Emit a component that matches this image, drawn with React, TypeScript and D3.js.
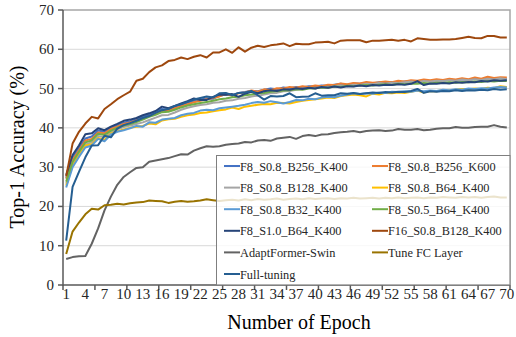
import * as d3 from "d3";
import React, { useEffect, useRef } from "react";

const EPOCHS = d3.range(1, 71);
const X_LABELS = [1, 4, 7, 10, 13, 16, 19, 22, 25, 28, 31, 34, 37, 40, 43, 46, 49, 52, 55, 58, 61, 64, 67, 70];
const Y_TICKS = [0, 10, 20, 30, 40, 50, 60, 70];

const B256_K400 = [
  27.3, 32.5, 34.8, 37.3, 37.8, 39.3, 39.0, 40.0, 40.6, 41.3,
  41.7, 42.2, 42.8, 43.4, 44.0, 44.8, 44.6, 45.3, 45.8, 46.4,
  46.9, 47.2, 47.5, 47.4, 48.2, 48.5, 48.3, 48.9, 49.1, 49.4,
  49.3, 49.7, 50.0, 49.8, 50.3, 50.1, 50.4, 50.3, 50.6, 50.5,
  50.8, 50.7, 51.0, 51.2, 50.9, 51.3, 51.2, 51.5, 51.3, 51.6,
  51.4, 51.7, 51.5, 51.8, 51.9, 51.7, 52.0, 51.9, 52.1, 52.0,
  52.3, 52.1, 52.4, 52.2, 52.5, 52.3, 52.6, 52.4, 52.7, 52.5,
];
const B256_K600 = [
  27.0, 31.8, 34.3, 36.8, 37.2, 38.8, 38.6, 39.7, 40.3, 41.0,
  41.4, 41.9, 42.3, 43.0, 43.6, 44.3, 44.3, 45.0, 45.5, 46.0,
  46.5, 46.9, 47.3, 47.6, 48.0, 48.6, 48.2, 48.8, 49.0, 49.5,
  49.2, 49.8, 49.6, 50.1, 50.0, 50.4, 50.2, 50.6, 50.4, 50.8,
  50.6, 51.0, 50.9, 51.3, 51.1, 51.4, 51.3, 51.7, 51.5, 51.6,
  51.8, 51.6, 52.0, 51.8, 52.1, 52.0, 52.3, 52.1, 52.4, 52.2,
  52.5, 52.3, 52.6, 52.4, 52.8, 52.5, 53.0, 52.7, 52.9, 52.8,
];
const B128_K400 = [
  25.8, 30.8, 33.4, 35.8, 36.3, 37.9, 37.6, 38.9, 39.6, 40.2,
  40.6, 41.0, 41.4, 42.0, 42.6, 43.2, 43.3, 43.9, 44.6, 45.1,
  45.5, 45.8, 46.0, 46.4, 46.5, 46.9, 47.0, 47.4, 47.6, 48.0,
  48.2, 48.5, 48.8, 48.9, 49.3, 49.4, 49.7, 49.9, 50.2, 50.0,
  50.4, 50.3, 50.6, 50.8, 50.6, 51.0, 50.9, 51.2, 51.1, 51.4,
  51.2, 51.5, 51.4, 51.6, 51.8, 51.6, 51.9, 51.8, 52.0, 51.9,
  52.1, 52.0, 52.3, 52.1, 52.4, 52.2, 52.5, 52.3, 52.6, 52.4,
];
const B64_K400 = [
  25.3, 30.4, 33.0, 35.5, 35.8, 37.4, 36.9, 38.6, 39.1, 39.6,
  40.0, 40.3, 40.5, 41.1, 40.9, 41.9, 42.2, 42.3, 42.8, 43.2,
  43.4, 43.8, 43.9, 44.2, 44.5, 44.7, 45.2, 44.8, 45.4, 45.6,
  45.9, 46.1, 46.0, 46.4, 46.3, 46.2, 46.6, 46.9, 47.1, 47.3,
  47.5, 47.7, 47.6, 48.1, 48.3, 48.5, 48.3, 48.0, 48.7, 48.5,
  48.9, 48.8, 49.0, 48.9, 49.2, 49.5, 49.0, 49.4, 49.3, 49.6,
  49.5, 49.7, 49.9, 49.8, 50.0, 49.9, 50.2, 50.1, 50.6, 50.4,
];
const B32_K400 = [
  24.8, 30.0, 32.6, 35.0, 35.5, 37.2, 36.6, 38.3, 39.0, 39.4,
  39.9, 40.5, 40.3, 41.4, 41.3, 42.1, 42.3, 42.5, 43.2, 43.6,
  43.8, 44.4, 44.6, 44.5, 45.0, 45.2, 45.4, 45.6, 45.9, 46.3,
  46.6, 46.4, 46.8, 46.5, 46.2, 46.6, 47.1, 47.0, 47.4, 47.3,
  47.7, 47.9, 47.8, 48.2, 48.5, 48.8, 48.6, 48.8, 48.7, 49.0,
  48.9, 49.2, 49.1, 49.3, 49.2, 49.5, 49.3, 49.5, 49.4, 49.7,
  49.6, 49.8, 49.7, 50.0, 49.9, 50.1, 50.0, 50.3, 50.4, 50.3,
];
const S05_B64 = [
  26.3, 31.3, 33.9, 36.3, 36.8, 38.5, 38.2, 39.3, 40.0, 40.6,
  41.0, 41.5, 42.1, 42.8, 43.3, 44.0, 44.1, 44.6, 45.2, 45.7,
  46.0, 46.3, 46.6, 46.9, 47.3, 47.5, 47.8, 47.9, 48.3, 48.5,
  48.8, 48.9, 49.2, 49.3, 49.5, 49.6, 49.8, 49.7, 50.0, 50.1,
  50.3, 50.2, 50.5, 50.4, 50.7, 50.6, 50.8, 50.9, 50.8, 51.0,
  51.1, 50.9, 51.2, 51.1, 51.3, 51.2, 51.4, 51.3, 51.5, 51.4,
  51.6, 51.5, 51.7, 51.6, 51.8, 51.7, 51.9, 51.8, 52.0, 51.9,
];
const S10_B64 = [
  28.0, 33.1, 35.5, 38.4, 38.6, 39.9, 39.4, 40.3, 41.0, 41.8,
  42.1, 42.5, 43.2, 43.7, 44.3, 45.4, 45.0, 45.6, 46.2, 46.8,
  47.5, 47.1, 47.1, 47.9, 48.5, 48.4, 48.6, 47.9, 48.7, 49.2,
  48.8, 49.3, 49.6, 49.4, 49.8, 49.7, 50.1, 49.9, 50.2, 50.0,
  50.4, 50.2, 50.5, 50.3, 50.6, 50.5, 50.8, 50.6, 50.9, 50.8,
  51.0, 50.9, 51.1, 51.0, 51.2, 51.9, 50.9, 51.3, 51.2, 51.4,
  51.3, 51.6, 51.5, 51.7, 51.6, 51.9, 51.8, 52.1, 52.0, 52.1,
];
const F16_B128 = [
  27.7, 36.0, 39.0, 41.1, 42.8, 42.4, 44.8, 46.0, 47.3, 48.3,
  49.2, 52.0, 52.5, 54.2, 55.4, 55.9, 57.0, 57.3, 57.9, 57.5,
  58.1, 58.5, 57.9, 59.2, 59.2, 60.0, 59.1, 60.5, 59.4, 60.4,
  60.9, 60.6, 61.0, 61.2, 61.5, 60.8, 61.4, 61.3, 61.3, 61.7,
  61.8, 61.9, 61.5, 62.2, 62.3, 62.3, 62.3, 61.8, 62.2, 62.2,
  62.3, 62.4, 62.2, 62.4, 62.0, 62.8, 62.6, 62.4, 62.4, 62.5,
  62.5, 62.6, 62.9, 63.2, 62.9, 62.8, 63.4, 63.4, 63.0, 63.0,
];
const ADAPTFORMER = [
  6.6, 7.1, 7.3, 7.4, 10.5, 14.4, 19.0, 22.5, 25.5, 27.5,
  28.7, 29.8, 30.0, 31.4, 31.7, 32.0, 32.3, 32.8, 33.3, 33.2,
  34.2, 34.8, 35.3, 35.2, 35.3, 35.7, 35.9, 36.0, 36.4, 36.3,
  36.8, 36.9, 36.7, 37.3, 37.5, 37.7, 37.2, 37.9, 38.2, 37.9,
  38.3, 38.4, 38.7, 38.9, 39.0, 39.2, 38.9, 39.2, 39.3, 39.4,
  39.2, 39.3, 39.7, 39.5, 39.5, 39.7, 39.4, 39.5, 39.8, 39.9,
  39.9, 40.2, 40.0, 40.0, 40.2, 40.3, 40.3, 40.7, 40.3, 40.1,
];
const TUNE_FC = [
  7.9, 13.6, 15.9, 18.0, 19.4, 19.2, 20.3, 20.4, 20.7, 20.5,
  20.8, 21.0, 21.1, 21.5, 21.4, 21.3, 20.9, 21.2, 21.4, 21.2,
  21.3, 21.5, 21.8, 21.6, 21.4, 21.6, 21.7, 21.5, 21.8, 21.6,
  21.9, 21.7, 21.8, 22.0, 21.7, 21.9, 22.0, 21.8, 22.1, 21.9,
  22.0, 22.1, 21.9, 22.1, 22.0, 22.2, 22.0, 22.1, 22.2, 22.0,
  22.2, 22.1, 22.3, 22.1, 22.2, 22.3, 22.1, 22.3, 22.2, 22.4,
  22.3, 22.2, 22.4, 22.3, 22.4, 22.2, 22.4, 22.5, 22.3, 22.3,
];
const FULL_TUNING = [
  11.3, 25.0, 28.8, 32.5, 35.5, 35.6, 38.0, 37.6, 39.8, 40.7,
  41.2, 41.8, 42.5, 43.0, 43.8, 44.5, 44.8, 45.6, 46.0, 46.6,
  47.2, 47.6, 48.0, 47.7, 48.8, 48.9, 48.3, 48.9, 49.0, 49.4,
  48.3, 47.2, 48.1, 48.0, 48.1, 48.8, 47.8, 47.9, 48.0, 48.8,
  48.2, 48.3, 48.3, 48.8, 48.7, 48.9, 48.6, 48.8, 49.0, 48.9,
  49.1, 49.0, 49.2, 49.1, 49.4, 49.9, 48.9, 49.3, 49.2, 49.4,
  49.3, 49.6, 49.4, 49.6, 49.5, 49.7, 49.6, 49.9, 49.7, 49.8,
];

const SERIES_NAMES = [
  "F8_S0.8_B256_K400", "F8_S0.8_B256_K600",
  "F8_S0.8_B128_K400", "F8_S0.8_B64_K400",
  "F8_S0.8_B32_K400", "F8_S0.5_B64_K400",
  "F8_S1.0_B64_K400", "F16_S0.8_B128_K400",
  "AdaptFormer-Swin", "Tune FC Layer",
  "Full-tuning",
];
const SERIES_VALUES = [
  B256_K400, B256_K600, B128_K400, B64_K400, B32_K400, S05_B64,
  S10_B64, F16_B128, ADAPTFORMER, TUNE_FC, FULL_TUNING,
];
const COLORS = [
  "#4472C4", "#ED7D31", "#A5A5A5", "#FFC000", "#5B9BD5", "#70AD47",
  "#264478", "#9E480E", "#636363", "#997300", "#255E91",
];

export default function App() {
  const svgRef = useRef<SVGSVGElement | null>(null);

  useEffect(() => {
    const svg = d3.select(svgRef.current);
    svg.selectAll("*").remove();
    const font = "'Liberation Serif', 'Times New Roman', serif";

    const left = 63, right = 510, top = 10, bottom = 285;

    const x = d3.scaleBand<number>().domain(EPOCHS).range([left, right]).padding(0);
    const y = d3.scaleLinear().domain([0, 70]).range([bottom, top]);
    const cx = (e: number) => (x(e) ?? 0) + x.bandwidth() / 2;

    // gridlines
    svg.append("g").selectAll("line")
      .data(Y_TICKS.filter(t => t > 0 && t < 70))
      .join("line")
      .attr("x1", left).attr("x2", right)
      .attr("y1", d => y(d)).attr("y2", d => y(d))
      .attr("stroke", "#d9d9d9").attr("stroke-width", 1);

    // plot border (top, right)
    svg.append("path")
      .attr("d", `M${left},${y(70)}H${right}V${bottom}`)
      .attr("fill", "none").attr("stroke", "#a6a6a6").attr("stroke-width", 1.5);

    // series
    const line = d3.line<number>()
      .x((_, i) => cx(EPOCHS[i]))
      .y(d => y(d));

    const lines = svg.append("g").attr("fill", "none").attr("stroke-linejoin", "round");
    SERIES_VALUES.forEach((vals, i) => {
      lines.append("path")
        .attr("d", line(vals) ?? "")
        .attr("stroke", COLORS[i])
        .attr("stroke-width", 2);
    });

    // axes
    const ax = svg.append("g").attr("stroke", "#595959").attr("stroke-width", 1.5);
    ax.append("line").attr("x1", left).attr("x2", left).attr("y1", top).attr("y2", bottom + 0.75);
    ax.append("line").attr("x1", left).attr("x2", right).attr("y1", bottom).attr("y2", bottom);
    ax.selectAll("line.yt").data(Y_TICKS).join("line").attr("class", "yt")
      .attr("x1", left - 5).attr("x2", left)
      .attr("y1", d => y(d)).attr("y2", d => y(d));
    const tickPos = d3.range(0, 15).map(k => left + k * 5 * x.bandwidth());
    ax.selectAll("line.xt").data(tickPos).join("line").attr("class", "xt")
      .attr("x1", d => d).attr("x2", d => d)
      .attr("y1", bottom).attr("y2", bottom + 5);

    svg.append("g").selectAll("text").data(Y_TICKS).join("text")
      .attr("x", left - 9).attr("y", d => y(d) + 5)
      .attr("text-anchor", "end")
      .attr("font-family", font).attr("font-size", 15).attr("fill", "#262626")
      .text(d => d);

    svg.append("g").selectAll("text").data(X_LABELS).join("text")
      .attr("x", d => cx(d)).attr("y", bottom + 13.5)
      .attr("text-anchor", "middle")
      .attr("font-family", font).attr("font-size", 15).attr("fill", "#262626")
      .text(d => d);

    // axis titles
    svg.append("text")
      .attr("x", 299).attr("y", 329)
      .attr("text-anchor", "middle")
      .attr("font-family", font).attr("font-size", 20).attr("fill", "#000")
      .text("Number of Epoch");
    svg.append("text")
      .attr("transform", "translate(24,147) rotate(-90)")
      .attr("text-anchor", "middle")
      .attr("font-family", font).attr("font-size", 20).attr("fill", "#000")
      .text("Top-1 Accuracy (%)");

    // legend
    const lg = svg.append("g");
    lg.append("rect")
      .attr("x", 216.5).attr("y", 155.5)
      .attr("width", right - 216.5).attr("height", bottom - 155.5)
      .attr("fill", "#fff").attr("fill-opacity", 0.8)
      .attr("stroke", "#7f7f7f").attr("stroke-width", 1);
    const colX = [224, 372];
    SERIES_NAMES.forEach((name, i) => {
      const col = i % 2;
      const row = Math.floor(i / 2);
      const ly = 166 + row * 21.6;
      lg.append("line")
        .attr("x1", colX[col]).attr("x2", colX[col] + 16)
        .attr("y1", ly).attr("y2", ly)
        .attr("stroke", COLORS[i]).attr("stroke-width", 2);
      lg.append("text")
        .attr("x", colX[col] + 16).attr("y", ly + 4.5)
        .attr("font-family", font).attr("font-size", 12.3).attr("fill", "#262626")
        .text(name);
    });
  }, []);

  return (
    <svg
      ref={svgRef}
      width={516}
      height={337}
      style={{ position: "absolute", left: 0, top: 0, background: "#fff" }}
    />
  );
}
